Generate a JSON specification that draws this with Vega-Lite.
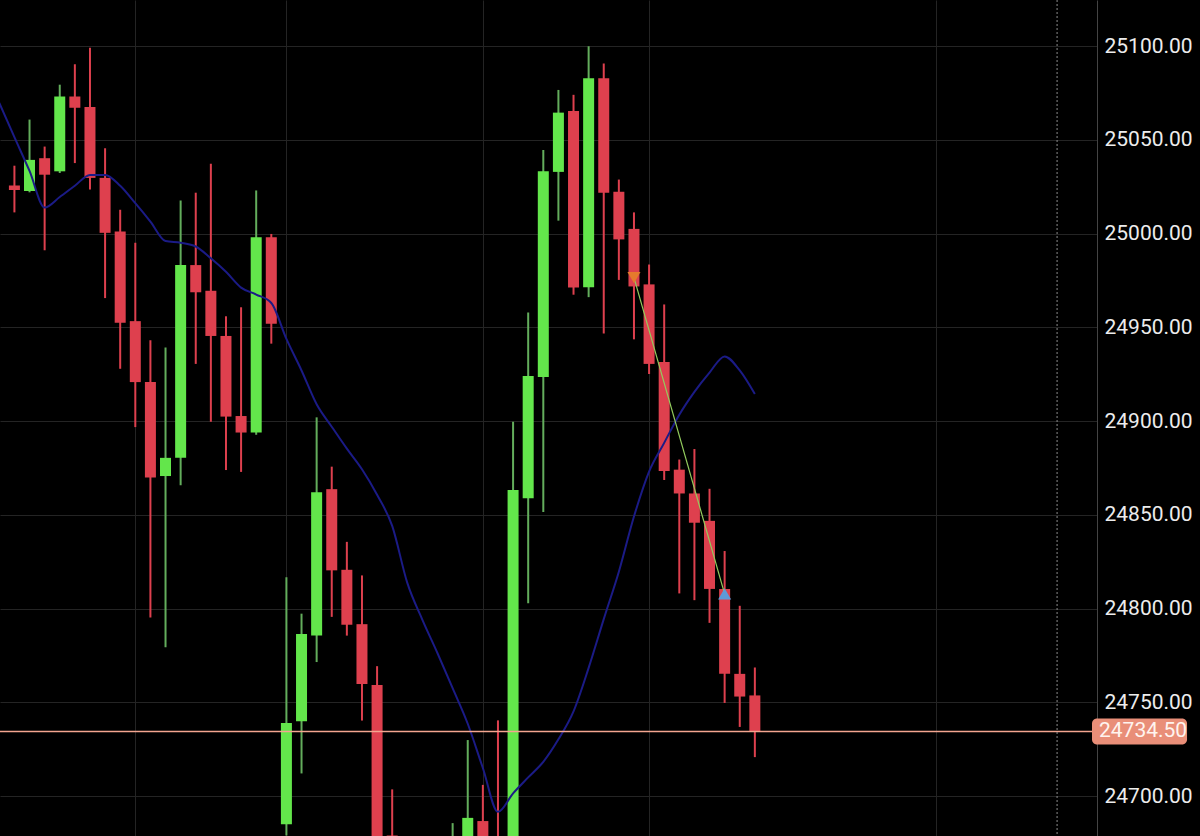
{
  "$schema": "https://vega.github.io/schema/vega-lite/v6.json",
  "width": 1097,
  "height": 836,
  "autosize": {"type": "none"},
  "padding": {"left": 0, "top": 0, "right": 103, "bottom": 0},
  "background": "#000000",
  "config": {
    "view": {"stroke": null},
    "font": "Roboto",
    "axis": {"gridColor": "#242424", "gridWidth": 1}
  },
  "datasets": {
    "candles": [
      {"i": -1, "ma": 25069.7},
      {"i": 0, "d": "down", "o": 25025.6, "h": 25036.2, "l": 25011.3, "c": 25023.2, "ma": 25051.4},
      {"i": 1, "d": "up", "o": 25022.7, "h": 25060.8, "l": 25022.0, "c": 25039.3, "ma": 25033.4},
      {"i": 2, "d": "down", "o": 25040.2, "h": 25046.4, "l": 24991.1, "c": 25031.4, "ma": 25013.9},
      {"i": 3, "d": "up", "o": 25033.2, "h": 25079.4, "l": 25032.3, "c": 25073.1, "ma": 25019.5},
      {"i": 4, "d": "down", "o": 25073.1, "h": 25090.3, "l": 25037.6, "c": 25067.1, "ma": 25025.5},
      {"i": 5, "d": "down", "o": 25067.5, "h": 25099.1, "l": 25023.5, "c": 25029.7, "ma": 25031.3},
      {"i": 6, "d": "down", "o": 25029.7, "h": 25045.5, "l": 24965.6, "c": 25000.4, "ma": 25031.3},
      {"i": 7, "d": "down", "o": 25001.1, "h": 25012.7, "l": 24927.9, "c": 24952.4, "ma": 25025.5},
      {"i": 8, "d": "down", "o": 24953.3, "h": 24995.1, "l": 24896.8, "c": 24920.8, "ma": 25016.2},
      {"i": 9, "d": "down", "o": 24920.8, "h": 24943.1, "l": 24795.2, "c": 24869.9, "ma": 25006.4},
      {"i": 10, "d": "up", "o": 24870.7, "h": 24939.2, "l": 24779.4, "c": 24880.4, "ma": 24996.0},
      {"i": 11, "d": "up", "o": 24880.4, "h": 25017.7, "l": 24865.8, "c": 24983.2, "ma": 24995.1},
      {"i": 12, "d": "down", "o": 24983.2, "h": 25021.8, "l": 24930.5, "c": 24968.7, "ma": 24993.1},
      {"i": 13, "d": "down", "o": 24969.5, "h": 25037.2, "l": 24899.7, "c": 24945.4, "ma": 24986.8},
      {"i": 14, "d": "down", "o": 24945.4, "h": 24955.9, "l": 24873.9, "c": 24902.4, "ma": 24979.6},
      {"i": 15, "d": "down", "o": 24902.7, "h": 24960.7, "l": 24872.9, "c": 24893.9, "ma": 24971.2},
      {"i": 16, "d": "up", "o": 24893.9, "h": 25023.0, "l": 24892.7, "c": 24998.1, "ma": 24967.5},
      {"i": 17, "d": "down", "o": 24998.1, "h": 24999.8, "l": 24941.3, "c": 24951.9, "ma": 24963.0},
      {"i": 18, "d": "up", "o": 24685.0, "h": 24816.7, "l": 24679.0, "c": 24739.0, "ma": 24943.8},
      {"i": 19, "d": "up", "o": 24739.9, "h": 24797.3, "l": 24712.1, "c": 24786.4, "ma": 24927.0},
      {"i": 20, "d": "up", "o": 24785.6, "h": 24902.0, "l": 24771.5, "c": 24862.0, "ma": 24909.0},
      {"i": 21, "d": "down", "o": 24863.7, "h": 24875.7, "l": 24795.6, "c": 24820.4, "ma": 24897.0},
      {"i": 22, "d": "down", "o": 24820.7, "h": 24835.6, "l": 24785.6, "c": 24791.4, "ma": 24885.3},
      {"i": 23, "d": "down", "o": 24791.7, "h": 24817.7, "l": 24740.3, "c": 24759.8, "ma": 24874.3},
      {"i": 24, "d": "down", "o": 24759.3, "h": 24769.3, "l": 24665.0, "c": 24672.0, "ma": 24860.7},
      {"i": 25, "d": "down", "o": 24679.0, "h": 24703.6, "l": 24660.0, "c": 24668.0, "ma": 24844.1},
      {"i": 26, "ma": 24813.7},
      {"i": 27, "ma": 24794.0},
      {"i": 28, "ma": 24776.2},
      {"i": 29, "d": "up", "o": 24665.0, "h": 24685.6, "l": 24660.0, "c": 24678.0, "ma": 24757.6},
      {"i": 30, "d": "up", "o": 24668.0, "h": 24729.9, "l": 24664.0, "c": 24688.4, "ma": 24738.6},
      {"i": 31, "d": "down", "o": 24686.7, "h": 24706.0, "l": 24666.0, "c": 24672.0, "ma": 24715.0},
      {"i": 32, "d": "down", "o": 24678.0, "h": 24740.4, "l": 24662.0, "c": 24668.0, "ma": 24691.6},
      {"i": 33, "d": "up", "o": 24670.0, "h": 24899.7, "l": 24665.0, "c": 24863.2, "ma": 24701.5},
      {"i": 34, "d": "up", "o": 24858.9, "h": 24957.9, "l": 24802.9, "c": 24924.0, "ma": 24710.0},
      {"i": 35, "d": "up", "o": 24923.5, "h": 25044.6, "l": 24851.5, "c": 25033.2, "ma": 24718.3},
      {"i": 36, "d": "up", "o": 25032.9, "h": 25076.6, "l": 25006.9, "c": 25064.5, "ma": 24730.3},
      {"i": 37, "d": "down", "o": 25065.4, "h": 25074.0, "l": 24967.4, "c": 24971.2, "ma": 24745.2},
      {"i": 38, "d": "up", "o": 24971.4, "h": 25099.9, "l": 24966.1, "c": 25082.8, "ma": 24768.4},
      {"i": 39, "d": "down", "o": 25082.8, "h": 25090.7, "l": 24946.7, "c": 25021.8, "ma": 24794.4},
      {"i": 40, "d": "down", "o": 25022.3, "h": 25028.8, "l": 24975.3, "c": 24996.9, "ma": 24819.7},
      {"i": 41, "d": "down", "o": 25002.5, "h": 25011.3, "l": 24943.6, "c": 24971.8, "ma": 24849.1},
      {"i": 42, "d": "down", "o": 24972.9, "h": 24983.5, "l": 24925.1, "c": 24930.5, "ma": 24873.1},
      {"i": 43, "d": "down", "o": 24931.5, "h": 24962.2, "l": 24868.6, "c": 24873.4, "ma": 24888.4},
      {"i": 44, "d": "down", "o": 24874.1, "h": 24879.5, "l": 24808.1, "c": 24861.4, "ma": 24903.4},
      {"i": 45, "d": "down", "o": 24861.4, "h": 24885.1, "l": 24804.5, "c": 24845.8, "ma": 24915.6},
      {"i": 46, "d": "down", "o": 24846.8, "h": 24863.9, "l": 24792.4, "c": 24810.5, "ma": 24925.9},
      {"i": 47, "d": "down", "o": 24810.5, "h": 24830.7, "l": 24749.7, "c": 24765.2, "ma": 24934.5},
      {"i": 48, "d": "down", "o": 24765.2, "h": 24801.5, "l": 24736.9, "c": 24753.1, "ma": 24927.0},
      {"i": 49, "d": "down", "o": 24753.7, "h": 24768.6, "l": 24720.8, "c": 24734.5, "ma": 24914.4}
    ],
    "signals": [
      {"i": 41, "p": 24976.5, "kind": "sell"},
      {"i": 47, "p": 24807.9, "kind": "buy"}
    ],
    "last": [{"price": 24734.5}]
  },
  "layer": [
    {
      "data": {"name": "candles"},
      "mark": {"type": "rule", "strokeWidth": 2, "clip": true},
      "encoding": {
        "x": {
          "field": "i", "type": "quantitative",
          "scale": {"domain": [-0.623, 71.311], "nice": false, "zero": false},
          "axis": {"values": [8, 18, 31, 42, 61], "grid": true, "labels": false, "ticks": false, "domain": false, "title": null}
        },
        "y": {
          "field": "l", "type": "quantitative",
          "scale": {"domain": [24681.4, 25121.9], "nice": false, "zero": false},
          "axis": {
            "orient": "right", "values": [24700, 24750, 24800, 24850, 24900, 24950, 25000, 25050, 25100],
            "format": ".2f", "grid": true, "ticks": false, "domain": true, "domainColor": "#444444",
            "labelColor": "#ececec", "labelFontSize": 21, "labelFont": "Roboto", "labelPadding": 7,
            "labelOverlap": false, "labelBound": false, "labelFlush": false, "title": null
          }
        },
        "y2": {"field": "h"},
        "color": {"field": "d", "type": "nominal", "scale": {"domain": ["up", "down"], "range": ["#63ad5c", "#de404e"]}, "legend": null}
      }
    },
    {
      "data": {"name": "candles"},
      "mark": {"type": "bar", "size": 11, "clip": true, "orient": "vertical"},
      "encoding": {
        "x": {"field": "i", "type": "quantitative"},
        "y": {"field": "o", "type": "quantitative"},
        "y2": {"field": "c"},
        "color": {"field": "d", "type": "nominal", "scale": {"domain": ["up", "down"], "range": ["#63e64b", "#de404e"]}, "legend": null}
      }
    },
    {
      "data": {"name": "candles"},
      "mark": {"type": "line", "color": "#1b1b86", "strokeWidth": 2, "clip": true, "interpolate": "monotone"},
      "encoding": {
        "x": {"field": "i", "type": "quantitative"},
        "y": {"field": "ma", "type": "quantitative"}
      }
    },
    {
      "data": {"name": "signals"},
      "mark": {"type": "line", "color": "#93cc5e", "strokeWidth": 1.2},
      "encoding": {
        "x": {"field": "i", "type": "quantitative"},
        "y": {"field": "p", "type": "quantitative"}
      }
    },
    {
      "data": {"name": "signals"},
      "mark": {"type": "point", "filled": true, "size": 170, "opacity": 1},
      "encoding": {
        "x": {"field": "i", "type": "quantitative"},
        "y": {"field": "p", "type": "quantitative"},
        "shape": {"field": "kind", "type": "nominal", "scale": {"domain": ["sell", "buy"], "range": ["triangle-down", "triangle-up"]}, "legend": null},
        "color": {"field": "kind", "type": "nominal", "scale": {"domain": ["sell", "buy"], "range": ["#e57a2c", "#5e9ad8"]}, "legend": null}
      }
    },
    {
      "data": {"name": "last"},
      "mark": {"type": "rule", "color": "#f3a58f", "strokeWidth": 1.5},
      "encoding": {
        "y": {"field": "price", "type": "quantitative"}
      }
    },
    {
      "data": {"name": "last"},
      "mark": {"type": "rule", "color": "#8c8c8c", "strokeWidth": 1, "strokeDash": [2, 2]},
      "encoding": {
        "x": {"datum": 69}
      }
    },
    {
      "data": {"name": "last"},
      "mark": {"type": "bar", "orient": "horizontal", "size": 26, "cornerRadius": 5, "color": "#e98e78"},
      "encoding": {
        "x": {"datum": 71.311},
        "x2": {"datum": 77.6},
        "y": {"field": "price", "type": "quantitative"}
      }
    },
    {
      "data": {"name": "last"},
      "mark": {"type": "text", "align": "left", "baseline": "middle", "dx": 7, "fontSize": 21, "font": "Roboto", "color": "#fff4ef"},
      "encoding": {
        "x": {"datum": 71.311},
        "y": {"field": "price", "type": "quantitative"},
        "text": {"field": "price", "type": "quantitative", "format": ".2f"}
      }
    }
  ],
  "resolve": {"scale": {"color": "independent", "shape": "independent"}}
}
